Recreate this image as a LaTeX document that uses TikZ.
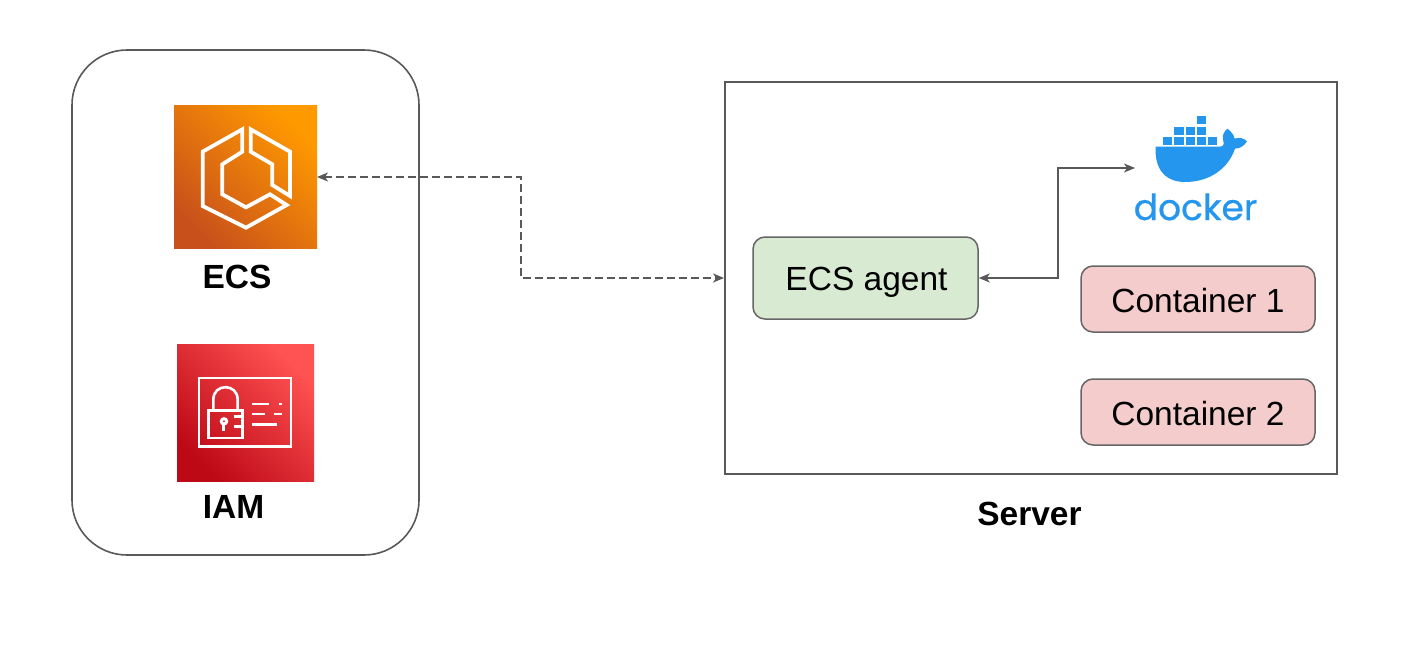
\documentclass[tikz,border=0pt]{standalone}
\usepackage{fontspec}
\setmainfont{Liberation Sans}
\newfontfamily\dockerfont[FakeBold=0.6]{Poppins}
\usetikzlibrary{arrows.meta}
\definecolor{edgegray}{HTML}{595959}
\definecolor{boxgray}{HTML}{666666}
\definecolor{agentgreen}{HTML}{D9EAD3}
\definecolor{contred}{HTML}{F4CCCC}
\definecolor{dockerblue}{HTML}{2496ED}
\definecolor{ecsdark}{HTML}{C8511B}
\definecolor{ecslight}{HTML}{FF9900}
\definecolor{iamdark}{HTML}{BD0816}
\definecolor{iamlight}{HTML}{FF5252}
\tikzset{
  x=1pt,y=-1pt,
  lab/.style={font=\fontsize{33.5}{40}\selectfont,text=black,inner sep=0pt,anchor=base},
  blab/.style={lab,font=\fontsize{33.5}{40}\selectfont\bfseries},
  procbox/.style={draw=boxgray,line width=1.5pt,rounded corners=12pt,inner sep=0pt,font=\fontsize{33.5}{40}\selectfont},
  iconbox/.style={inner sep=0pt,outer sep=0pt,minimum width=#1,minimum height=#1},
  conn/.style={draw=edgegray,line width=1.7pt,{Stealth[length=11pt,width=9pt,inset=3pt]}-{Stealth[length=11pt,width=9pt,inset=3pt]}},
  iconline/.style={draw=white,line join=miter,fill=none},
  block/.style={fill=dockerblue,draw=none},
}
\begin{document}
\begin{tikzpicture}
\useasboundingbox (0,0) rectangle (1419,659);
\fill[white] (0,0) rectangle (1419,659);
% containers
\node[draw=edgegray,line width=1.6pt,rounded corners=55pt,minimum width=347pt,minimum height=505pt,inner sep=0pt] (group) at (245.5,302.5) {};
\node[draw=edgegray,line width=1.9pt,minimum width=612pt,minimum height=392pt,inner sep=0pt] (server) at (1031,278) {};
% ECS icon
\node[iconbox=143pt,left color=ecsdark,right color=ecslight,shading angle=135] (ecs) at (245.5,177) {};
\begin{scope}[shift={(165,100)},x=0.3333pt,y=-0.3333pt]
\draw[iconline,line width=3.8pt] (232,88) -- (113,155) -- (113,318) -- (243,383) -- (365,315) -- (315,283) -- (243,322) -- (172,283) -- (172,193) -- (232,155) -- cycle;
\draw[iconline,line width=3.8pt] (257,88) -- (375,155) -- (375,288) -- (322,255) -- (322,193) -- (257,155) -- cycle;
\end{scope}
% IAM icon
\node[iconbox=137pt,left color=iamdark,right color=iamlight,shading angle=135] (iam) at (245.5,412.5) {};
\begin{scope}[shift={(170,338)},x=0.3333pt,y=-0.3333pt]
\draw[iconline,line width=2.6pt] (87,120) rectangle (363,325);
\draw[iconline,line width=2.6pt] (115,218) rectangle (217,300);
\draw[iconline,line width=2.6pt] (130,218) -- (130,185) .. controls (130,135) and (203,135) .. (203,185) -- (203,218);
\draw[iconline,line width=3pt] (162,250) circle (8);
\draw[iconline,line width=3pt] (162,258) -- (162,278);
\draw[iconline,line width=2.6pt] (192,235) -- (217,235) (192,265) -- (217,265);
\draw[iconline,line width=2.6pt] (247,198) -- (298,198) (326,198) -- (336,198) (247,228) -- (285,228) (312,228) -- (336,228) (247,259) -- (322,259);
\end{scope}
% labels
\node[blab] (ecslab) at (237,288.5) {ECS};
\node[blab] (iamlab) at (233.5,518) {IAM};
\node[blab] (serverlab) at (1029.5,525) {Server};
% process boxes
\node[procbox,fill=agentgreen,minimum width=225pt,minimum height=82pt] (agent) at (865.5,278) {};
\node[lab] (agentlab) at (866.5,290.5) {ECS agent};
\node[procbox,fill=contred,minimum width=234pt,minimum height=66pt] (c1) at (1198,299) {};
\node[lab] (c1lab) at (1198,312) {Container 1};
\node[procbox,fill=contred,minimum width=234pt,minimum height=66pt] (c2) at (1198,412) {};
\node[lab] (c2lab) at (1198,425) {Container 2};
% docker logo
\begin{scope}[shift={(1120,105)},x=0.3333pt,y=-0.3333pt]
\foreach \a/\b in {230/33,163/65,197/65,230/65,129/96,163/96,197/96,230/96,264/96}
  \fill[block] (\a,\b) rectangle ++(28,25);
\fill[dockerblue] (107,125) -- (295,125) .. controls (308,125) and (314,122) .. (310,108)
  .. controls (305,92) and (312,80) .. (322,71) .. controls (334,80) and (342,90) .. (344,101)
  .. controls (358,96) and (373,100) .. (381,109) .. controls (372,124) and (358,131) .. (345,131)
  .. controls (325,190) and (270,231) .. (195,231) .. controls (130,231) and (103,185) .. (107,125) -- cycle;
\end{scope}
\node[inner sep=0pt,anchor=base,text=dockerblue,font=\dockerfont\fontsize{36}{40}\selectfont] (dockerword) at (1195.5,220) {docker};
\coordinate (dockerin) at (1135,168);
% connectors
\draw[conn,dash pattern=on 8pt off 4pt] (ecs.east) -- ++(204,0) |- (server.west);
\draw[conn] (agent.east) -- ++(79,0) |- (dockerin);
\end{tikzpicture}
\end{document}
